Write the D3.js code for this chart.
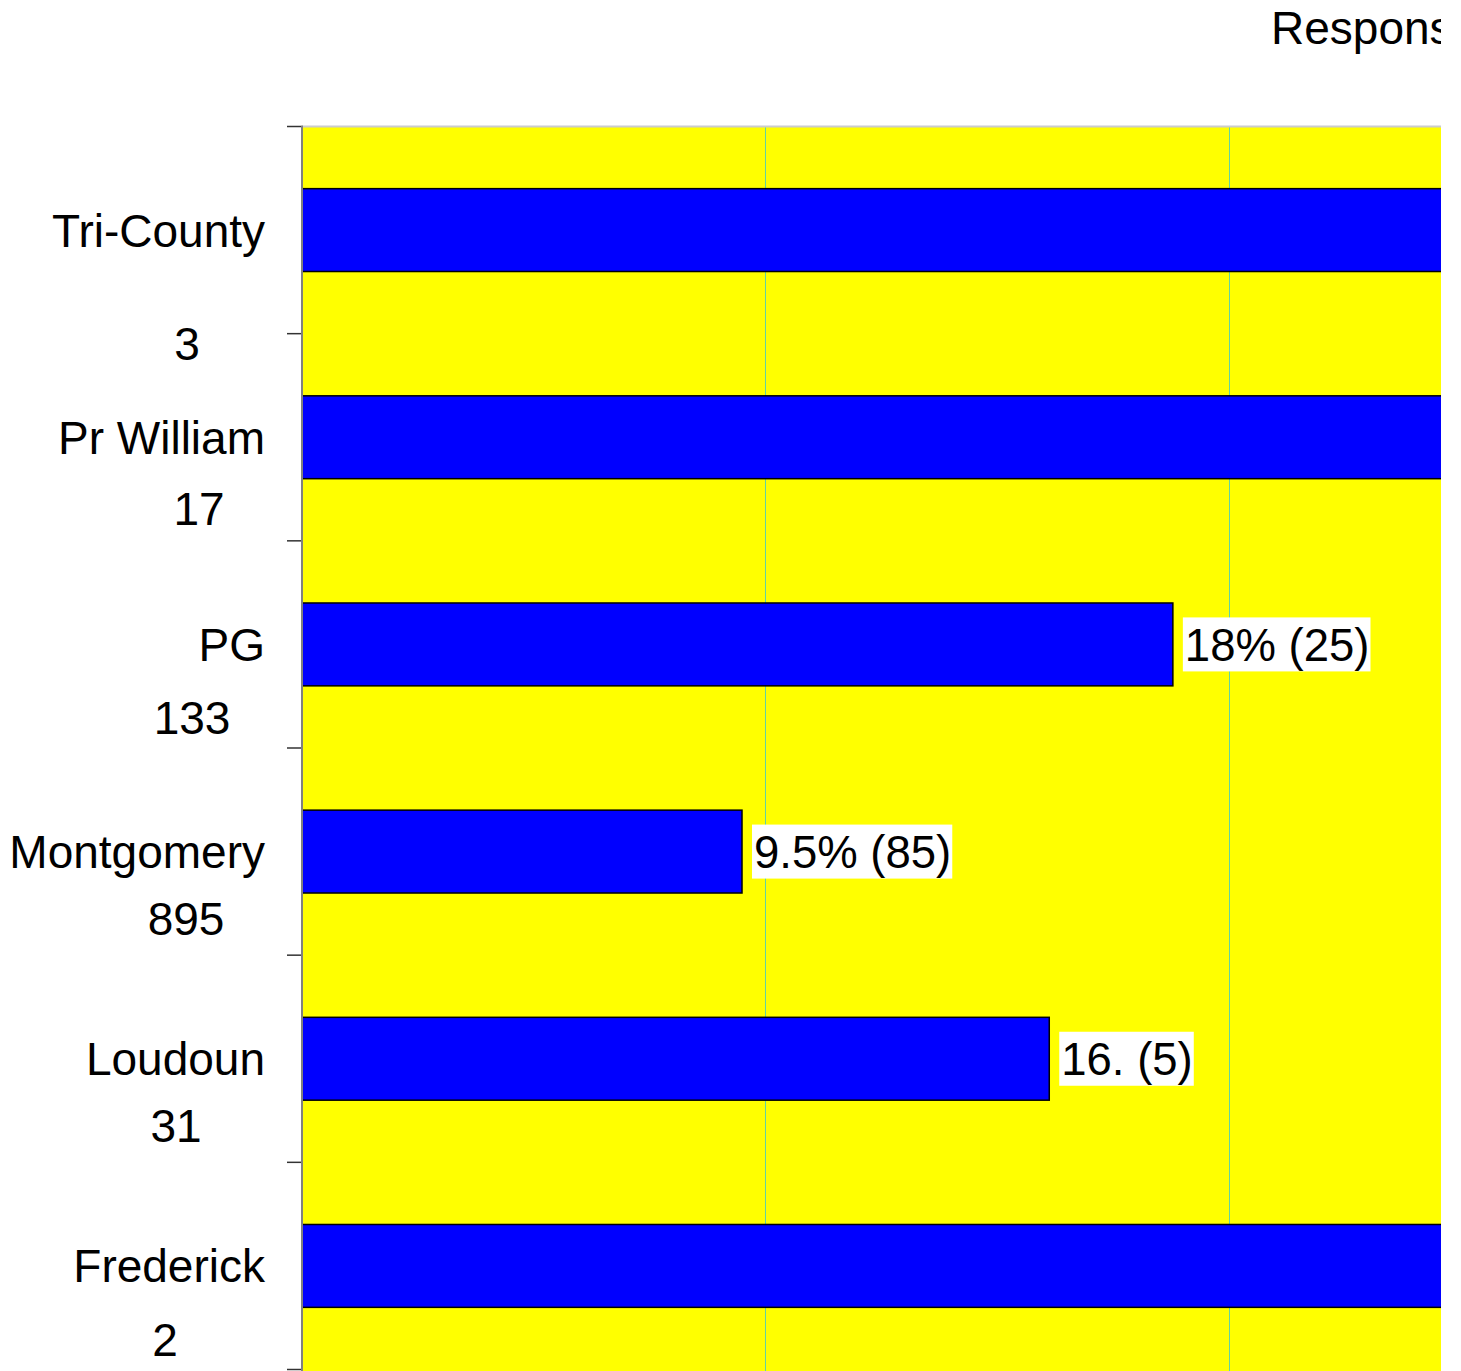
<!DOCTYPE html>
<html>
<head>
<meta charset="utf-8">
<script src="https://cdn.jsdelivr.net/npm/d3@7"></script>
<style>
  html, body { margin: 0; padding: 0; background: #ffffff; }
  svg { display: block; }
  text { font-family: "Liberation Sans", Arial, sans-serif; fill: #000; }
</style>
</head>
<body>
<script>
// ---- data ----
const categories = ["Tri-County", "Pr William", "PG", "Montgomery", "Loudoun", "Frederick"];
const totals     = [3, 17, 133, 895, 31, 2];
const responses  = [1, 5, 25, 85, 5, 1];
const pctLabels  = ["33%", "29%", "18%", "9.5%", "16.", "50%"];
const xTicks     = [0, 0.1, 0.2, 0.3];
const titleText  = "Responses by County";

// ---- layout (label nudges for the count line, relative to band centre) ----
const countNudge = [[187, 113], [199, 71], [192, 73], [186, 67], [176, 67], [165, 74]];

const W = 1441, H = 1371;
const plotLeft = 302, plotTop = 126.5, plotBottom = 1369.5;

const svg = d3.select("body").append("svg")
  .attr("width", W).attr("height", H)
  .style("overflow", "hidden");

const x = d3.scaleLinear().domain([0, 0.3]).range([plotLeft, plotLeft + 0.3 * 4633]);
const y = d3.scaleBand().domain(categories).range([plotTop, plotBottom])
  .paddingInner(0.6).paddingOuter(0.3);

const data = categories.map((c, i) => ({
  cat: c, total: totals[i], resp: responses[i],
  value: responses[i] / totals[i],
  label: pctLabels[i] + " (" + responses[i] + ")"
}));

// plot background
svg.append("rect")
  .attr("x", plotLeft).attr("y", plotTop)
  .attr("width", W - plotLeft + 10).attr("height", H - plotTop + 10)
  .attr("fill", "#ffff00");

// top border
svg.append("line")
  .attr("x1", plotLeft).attr("x2", W + 10)
  .attr("y1", plotTop).attr("y2", plotTop)
  .attr("stroke", "#cccccc").attr("stroke-width", 2);

// gridlines
svg.append("g").selectAll("line")
  .data(xTicks.filter(t => t > 0))
  .join("line")
  .attr("x1", d => Math.round(x(d)) + 0.5).attr("x2", d => Math.round(x(d)) + 0.5)
  .attr("y1", plotTop + 1).attr("y2", H + 10)
  .attr("stroke", "#3cc8c8").attr("stroke-width", 1).attr("opacity", 0.8);

// bars
svg.append("g").selectAll("rect")
  .data(data)
  .join("rect")
  .attr("x", x(0))
  .attr("y", d => y(d.cat))
  .attr("width", d => x(d.value) - x(0))
  .attr("height", y.bandwidth())
  .attr("fill", "#0000ff")
  .attr("stroke", "#000000")
  .attr("stroke-width", 1.5);

// value labels with white boxes (only those that fall inside the visible frame)
const lab = svg.append("g").selectAll("g")
  .data(data.filter(d => x(d.value) + 10 < W))
  .join("g")
  .attr("transform", d => `translate(${x(d.value) + 10},${y(d.cat) + y.bandwidth() / 2})`);
lab.each(function(d) {
  const g = d3.select(this);
  const bg = g.append("rect").attr("fill", "#ffffff");
  const t = g.append("text")
    .attr("x", 2).attr("y", 16.5)
    .attr("font-size", 45.5)
    .text(d.label);
  const w = t.node().getComputedTextLength();
  bg.attr("x", 0).attr("y", -27).attr("width", w + 3).attr("height", 54);
});

// axis line
svg.append("line")
  .attr("x1", plotLeft).attr("x2", plotLeft)
  .attr("y1", plotTop - 1).attr("y2", H + 10)
  .attr("stroke", "#808080").attr("stroke-width", 2);

// ticks at band boundaries
const step = y.step();
const bounds = d3.range(categories.length + 1).map(i => y(categories[0]) - y.paddingOuter() * step + i * step);
svg.append("g").selectAll("line")
  .data(bounds)
  .join("line")
  .attr("x1", plotLeft - 15).attr("x2", plotLeft - 1)
  .attr("y1", d => d).attr("y2", d => d)
  .attr("stroke", "#333333").attr("stroke-width", 1.5);

// category labels (name + count)
const cl = svg.append("g").selectAll("g")
  .data(data)
  .join("g");
cl.append("text")
  .attr("x", 265)
  .attr("y", d => y(d.cat) + y.bandwidth() / 2 + 16.5)
  .attr("text-anchor", "end")
  .attr("font-size", 46)
  .text(d => d.cat);
cl.append("text")
  .attr("x", (d, i) => countNudge[i][0])
  .attr("y", (d, i) => y(d.cat) + y.bandwidth() / 2 + countNudge[i][1] + 16.5)
  .attr("text-anchor", "middle")
  .attr("font-size", 46)
  .text(d => d.total);

// title (cropped at right edge, as in the reference)
svg.append("text")
  .attr("x", 1271).attr("y", 43.5)
  .attr("font-size", 46)
  .text(titleText);
</script>
</body>
</html>
